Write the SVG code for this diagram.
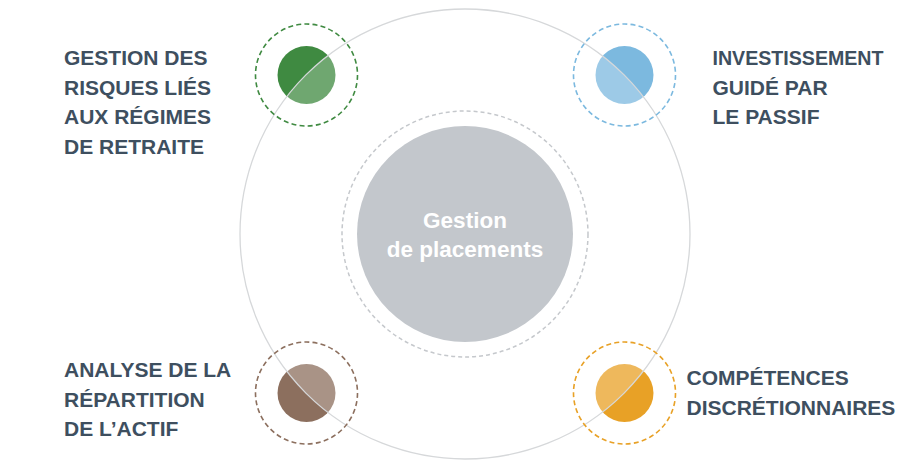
<svg xmlns="http://www.w3.org/2000/svg" width="900" height="460" viewBox="0 0 900 460">
<style>
.lbl{font-family:"Liberation Sans",Arial,sans-serif;font-weight:bold;font-size:21px;fill:#3e4f5f}
.ctr{font-family:"Liberation Sans",Arial,sans-serif;font-weight:bold;font-size:22.5px;fill:#ffffff;text-anchor:middle}
.ring{fill:none;stroke-width:1.6;stroke-dasharray:5 3.2}
</style>
<rect width="900" height="460" fill="#ffffff"/>
<g id="dots">
<circle cx="306.5" cy="75" r="29" fill="#3f8a41"/>
<circle cx="624.5" cy="75" r="29" fill="#7cb9df"/>
<circle cx="306.5" cy="393" r="29" fill="#8c6f5e"/>
<circle cx="624.5" cy="393" r="29" fill="#e8a126"/>
</g>
<g id="connectors">
<circle cx="465" cy="234" r="225" fill="#ffffff" fill-opacity="0.25" stroke="#d6d8da" stroke-width="1.3"/>
</g>
<g id="center">
<circle cx="465" cy="234" r="123" fill="none" stroke="#c5c8cc" stroke-width="1.5" stroke-dasharray="4 3"/>
<circle cx="465" cy="234" r="108" fill="#c3c7cc"/>
<text class="ctr" x="465" y="228">Gestion</text>
<text class="ctr" x="465" y="257">de placements</text>
</g>
<g id="node-risques">
<circle class="ring" cx="306.5" cy="75" r="51" stroke="#3f8a41"/>
<text class="lbl" x="64" y="65">GESTION DES</text>
<text class="lbl" x="64" y="94.5">RISQUES LIÉS</text>
<text class="lbl" x="64" y="124">AUX RÉGIMES</text>
<text class="lbl" x="64" y="153.5">DE RETRAITE</text>
</g>
<g id="node-passif">
<circle class="ring" cx="624.5" cy="75" r="51" stroke="#7cb9df"/>
<text class="lbl" x="712.5" y="65" textLength="171" lengthAdjust="spacingAndGlyphs">INVESTISSEMENT</text>
<text class="lbl" x="712.5" y="95">GUIDÉ PAR</text>
<text class="lbl" x="712.5" y="124">LE PASSIF</text>
</g>
<g id="node-actif">
<circle class="ring" cx="306.5" cy="393" r="51" stroke="#8c6f5e"/>
<text class="lbl" x="64" y="376.5">ANALYSE DE LA</text>
<text class="lbl" x="64" y="406.5">RÉPARTITION</text>
<text class="lbl" x="64" y="435.5">DE L’ACTIF</text>
</g>
<g id="node-discretion">
<circle class="ring" cx="624.5" cy="393" r="51" stroke="#e8a126"/>
<text class="lbl" x="686.5" y="385">COMPÉTENCES</text>
<text class="lbl" x="686.5" y="414.5">DISCRÉTIONNAIRES</text>
</g>
</svg>
